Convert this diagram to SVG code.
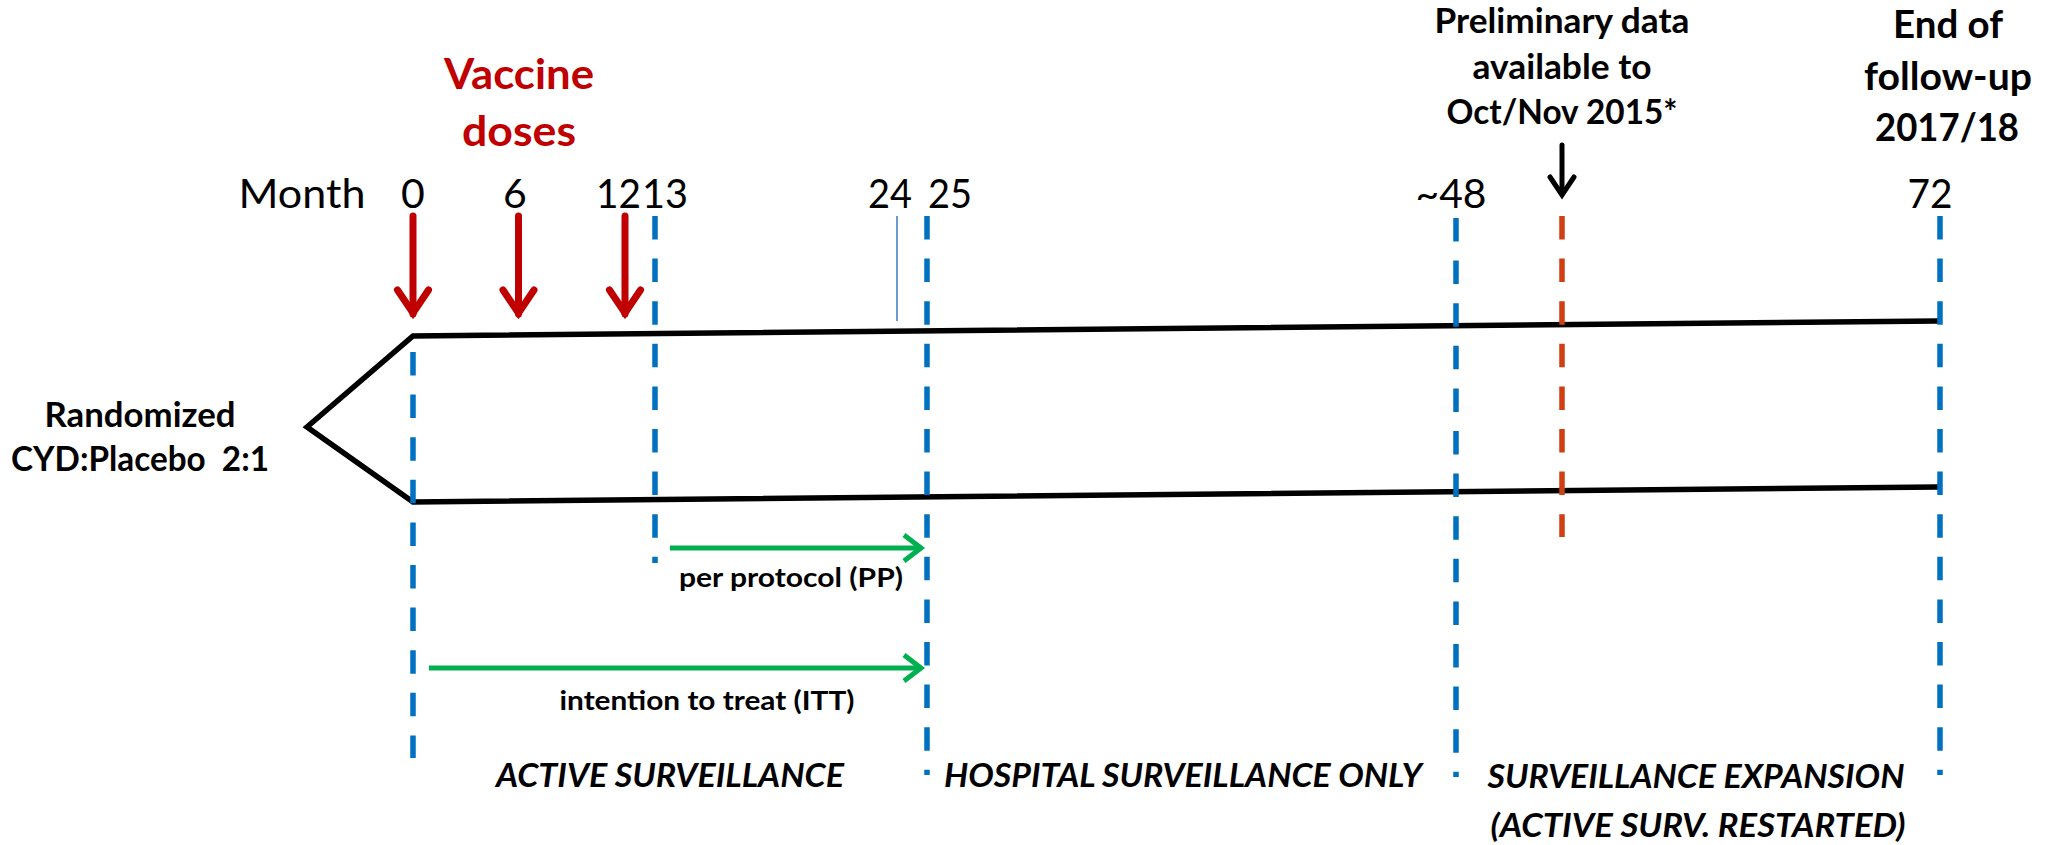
<svg xmlns="http://www.w3.org/2000/svg" width="2054" height="845" viewBox="0 0 2054 845">
<style>
text { font-family: Lato, "Liberation Sans", sans-serif; fill: #000; text-anchor: middle; }
.b { font-weight: 700; }
.bi { font-weight: 700; font-style: italic; font-size: 32px; }
.red { fill: #C00000; }
.num { font-size: 41px; }
.head1 { font-size: 34px; }
.head2 { font-size: 39px; }
.small { font-size: 27px; }
.dash { stroke: #0070C0; stroke-width: 5.5; stroke-dasharray: 23.5 19.1; fill: none; }
.reddash { stroke: #CF3F12; stroke-width: 5.5; stroke-dasharray: 23.5 19.1; fill: none; }
.arm { stroke: #000; stroke-width: 5.5; fill: none; stroke-linejoin: miter; }
.rarrow { stroke: #C00000; stroke-width: 7; fill: none; stroke-linecap: round; stroke-linejoin: miter; }
.karrow { stroke: #000; stroke-width: 5; fill: none; stroke-linecap: round; stroke-linejoin: miter; }
.garrow { stroke: #00B050; stroke-width: 5; fill: none; stroke-linejoin: miter; }
</style>

<g id="connectors">
  <!-- study arms -->
  <path class="arm" d="M1938,321 L413,336 L307,427 L413,502 L1938,487"/>
  <!-- blue dashed milestone lines -->
  <line class="dash" x1="413" y1="352" x2="413" y2="758"/>
  <line class="dash" x1="655" y1="216" x2="655" y2="563"/>
  <line class="dash" x1="927" y1="216" x2="927" y2="775"/>
  <line class="dash" x1="1456" y1="218" x2="1456" y2="777"/>
  <line class="dash" x1="1940" y1="216" x2="1940" y2="775"/>
  <!-- red dashed line -->
  <line class="reddash" x1="1562" y1="216" x2="1562" y2="537"/>
  <!-- thin month 24 line -->
  <line x1="897" y1="216" x2="897" y2="321" stroke="#3A78C0" stroke-width="1.5"/>
  <!-- vaccine dose arrows -->
  <g class="rarrow">
    <line x1="413" y1="216" x2="413" y2="314"/>
    <polyline points="397.5,290 413,313 428.5,290"/>
    <line x1="518.5" y1="216" x2="518.5" y2="314"/>
    <polyline points="503,290 518.5,313 534,290"/>
    <line x1="625" y1="216" x2="625" y2="314"/>
    <polyline points="609.5,290 625,313 640.5,290"/>
  </g>
  <!-- preliminary data arrow -->
  <g class="karrow">
    <line x1="1562" y1="145" x2="1562" y2="194"/>
    <polyline points="1550,177 1562,195 1574,177"/>
  </g>
  <!-- analysis period arrows -->
  <g class="garrow">
    <line x1="670" y1="548" x2="920" y2="548"/>
    <polyline points="904,535 921,548 904,561"/>
    <line x1="429" y1="668" x2="920" y2="668"/>
    <polyline points="904,655 921,668 904,681"/>
  </g>
</g>

<g id="vaccine-doses">
  <text class="b red" font-size="42" x="519" y="89" textLength="150" lengthAdjust="spacingAndGlyphs">Vaccine</text>
  <text class="b red" font-size="42" x="519" y="146" textLength="114" lengthAdjust="spacingAndGlyphs">doses</text>
</g>

<g id="month-axis">
  <text class="num" x="302" y="208" textLength="127" lengthAdjust="spacingAndGlyphs">Month</text>
  <text class="num" x="413" y="208">0</text>
  <text class="num" x="515" y="208">6</text>
  <text class="num" x="618.5" y="208" textLength="45" lengthAdjust="spacingAndGlyphs">12</text>
  <text class="num" x="665" y="208" textLength="46" lengthAdjust="spacingAndGlyphs">13</text>
  <text class="num" x="890" y="208" textLength="44" lengthAdjust="spacingAndGlyphs">24</text>
  <text class="num" x="950" y="208" textLength="44" lengthAdjust="spacingAndGlyphs">25</text>
  <text class="num" x="1451" y="208" textLength="71" lengthAdjust="spacingAndGlyphs">~48</text>
  <text class="num" x="1930" y="208" textLength="45" lengthAdjust="spacingAndGlyphs">72</text>
</g>

<g id="preliminary-data">
  <text class="b head1" x="1562" y="33" textLength="255" lengthAdjust="spacingAndGlyphs">Preliminary data</text>
  <text class="b head1" x="1562" y="79" textLength="179" lengthAdjust="spacingAndGlyphs">available to</text>
  <text class="b head1" x="1562" y="124" textLength="231" lengthAdjust="spacingAndGlyphs">Oct/Nov 2015*</text>
</g>

<g id="end-of-follow-up">
  <text class="b head2" x="1948" y="38" textLength="110" lengthAdjust="spacingAndGlyphs">End of</text>
  <text class="b head2" x="1948" y="90" textLength="168" lengthAdjust="spacingAndGlyphs">follow-up</text>
  <text class="b head2" x="1947" y="141" textLength="144" lengthAdjust="spacingAndGlyphs">2017/18</text>
</g>

<g id="randomized">
  <text class="b head1" x="140" y="427" textLength="191" lengthAdjust="spacingAndGlyphs">Randomized</text>
  <text class="b head1" x="140" y="471" textLength="258" lengthAdjust="spacingAndGlyphs" style="white-space:pre">CYD:Placebo  2:1</text>
</g>

<g id="per-protocol">
  <text class="b small" x="791" y="587" textLength="224" lengthAdjust="spacingAndGlyphs">per protocol (PP)</text>
</g>

<g id="intention-to-treat">
  <text class="b small" x="707" y="710" textLength="295" lengthAdjust="spacingAndGlyphs">intention to treat (ITT)</text>
</g>

<g id="active-surveillance">
  <text class="bi" x="670" y="787" textLength="348" lengthAdjust="spacingAndGlyphs">ACTIVE SURVEILLANCE</text>
</g>

<g id="hospital-surveillance">
  <text class="bi" x="1183" y="787" textLength="478" lengthAdjust="spacingAndGlyphs">HOSPITAL SURVEILLANCE ONLY</text>
</g>

<g id="surveillance-expansion">
  <text class="bi" x="1696" y="788" textLength="417" lengthAdjust="spacingAndGlyphs">SURVEILLANCE EXPANSION</text>
  <text class="bi" x="1698" y="837" textLength="415" lengthAdjust="spacingAndGlyphs">(ACTIVE SURV. RESTARTED)</text>
</g>
</svg>
